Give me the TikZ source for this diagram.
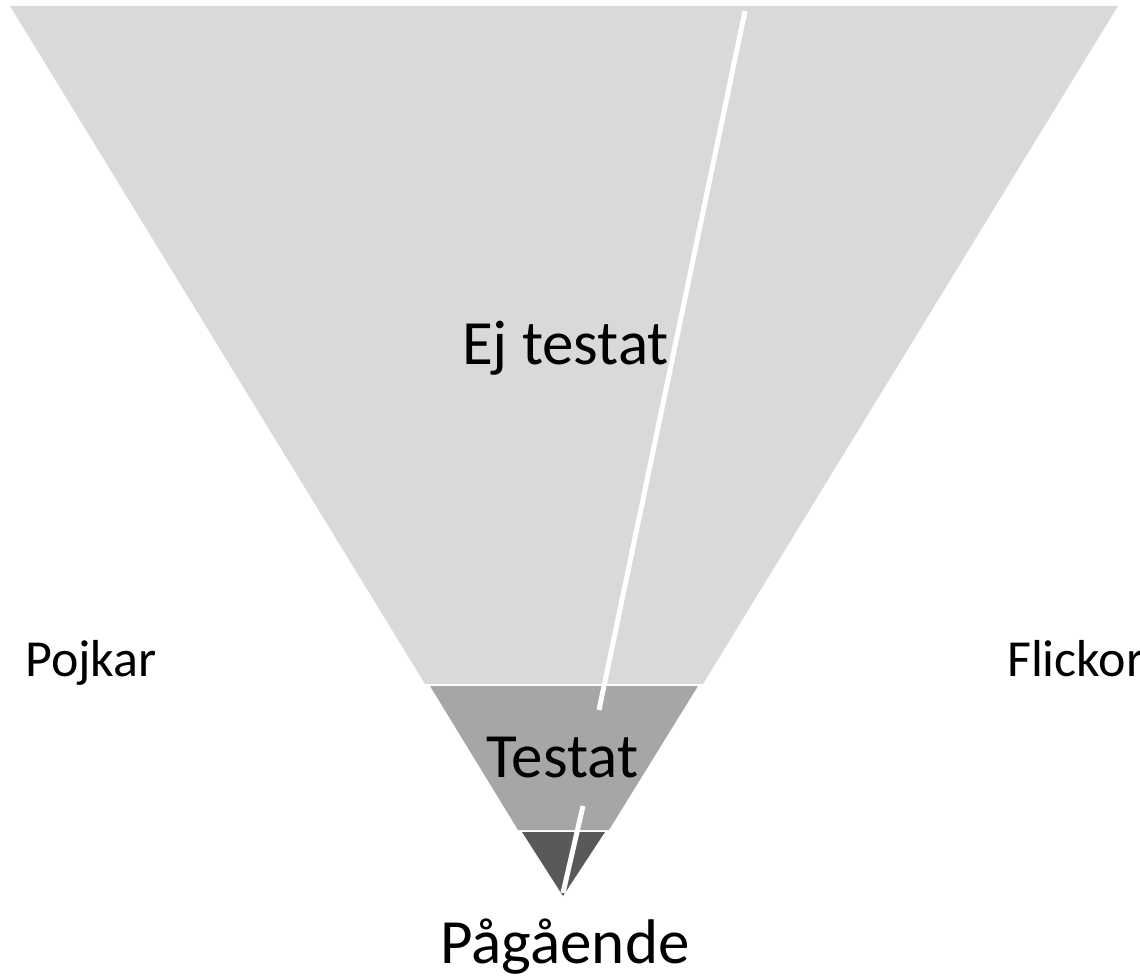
\documentclass[tikz,border=0pt]{standalone}
\usepackage{fontspec}
\setmainfont{Carlito}
\definecolor{bandlight}{HTML}{D9D9D9}
\definecolor{bandmid}{HTML}{A6A6A6}
\definecolor{banddark}{HTML}{595959}
\tikzset{
  band/.style={draw=none},
  biglabel/.style={anchor=base, inner sep=0pt, font=\fontsize{63}{75}\selectfont, text=black},
  sidelabel/.style={anchor=base west, inner sep=0pt, font=\fontsize{52}{62}\selectfont, text=black},
  split/.style={draw=white, line width=5pt, line cap=butt}
}
\begin{document}
\begin{tikzpicture}[x=1pt,y=-1pt]
\useasboundingbox (0,0) rectangle (1140,979);
\clip (0,0) rectangle (1140,979);
% bands
\fill[bandlight] (10,6) -- (1118,6) -- (703,684) -- (425,684) -- cycle;
\fill[bandmid] (430,686) -- (698,686) -- (609,830) -- (518,830) -- cycle;
\fill[banddark] (522,832) -- (605,832) -- (563,896) -- cycle;
% white split lines
\coordinate (s1a) at (745,11);
\coordinate (s1b) at (599,710);
\coordinate (s2a) at (583,806);
\coordinate (s2b) at (563,893);
\draw[split] (s1a) -- (s1b);
\draw[split] (s2a) -- (s2b);
% labels
\node[biglabel] (ej) at (565.5,364) {Ej testat};
\node[biglabel] (testat) at (562.5,777) {Testat};
\node[biglabel] (pag) at (565,963) {Pågående};
\node[sidelabel] (pojkar) at (25,676) {Pojkar};
\node[sidelabel] (flickor) at (1007,676) {Flickor};
\end{tikzpicture}
\end{document}
